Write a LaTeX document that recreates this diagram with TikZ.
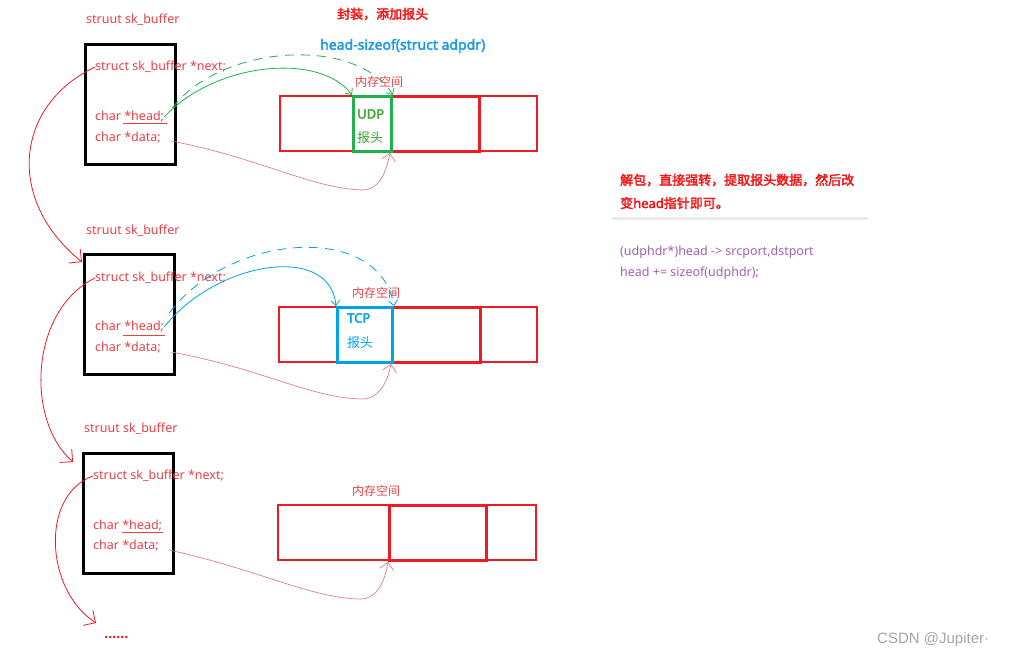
\documentclass[tikz,border=0pt]{standalone}
\usepackage{fontspec}
\setmainfont{Noto Sans}[AutoFakeBold=2.5]
\newfontfamily\cjk{Noto Sans CJK SC}[AutoFakeBold=2.5]
\newfontfamily\wmfont{Liberation Sans}
\usetikzlibrary{arrows.meta,calc}
\definecolor{txtred}{RGB}{232,64,72}
\definecolor{pred}{RGB}{237,28,36}
\definecolor{pgreen}{RGB}{34,177,76}
\definecolor{tgreen}{RGB}{60,165,50}
\definecolor{pblue}{RGB}{0,162,232}
\definecolor{hblue}{RGB}{25,155,225}
\definecolor{ppurple}{RGB}{165,95,175}
\definecolor{ppink}{RGB}{225,125,140}
\definecolor{tred}{RGB}{245,20,20}
\begin{document}
\begin{tikzpicture}[x=1pt,y=-1pt,
  lbl/.style={anchor=west,inner sep=0pt,text=txtred,font=\fontsize{12.5}{14}\selectfont},
  cjklbl/.style={anchor=west,inner sep=0pt,text=txtred,font=\fontsize{12}{14}\selectfont\cjk},
  sbox/.style={draw=black,line width=3pt,anchor=north west,minimum width=90pt,minimum height=120pt,inner sep=0pt},
  mem/.style={draw=pred,line width=2pt,anchor=north west,minimum height=55pt,inner sep=0pt},
  memthick/.style={draw=pred,line width=3pt,anchor=north west,minimum height=55pt,inner sep=0pt},
  hdr/.style={line width=3pt,anchor=north west,minimum height=55pt,inner sep=0pt},
  hdrtxt/.style={anchor=west,inner sep=0pt,font=\fontsize{13}{14}\selectfont\bfseries},
  hdrcjk/.style={anchor=west,inner sep=0pt,font=\fontsize{13}{14}\selectfont\cjk},
  ptr/.style={line width=0.8pt,-{Straight Barb[length=5pt,width=9pt]}},
  ptrdash/.style={ptr,dash pattern=on 9pt off 7pt},
  dataarrow/.style={draw=ppink,line width=0.7pt,-{Straight Barb[length=7pt,width=14pt]}},
  nextarrow/.style={draw=pred,line width=0.8pt,-{Straight Barb[length=9pt,width=18pt]}},
  uline/.style={draw=txtred,line width=0.7pt},
]
\useasboundingbox (0,0) rectangle (1017,660);
\fill[white] (0,0) rectangle (1017,660);

% ---------- row 1 ----------
\node[sbox] (b1) at (84,43) {};
\node[lbl] (t1) at (86,20) {struut sk\_buffer};
\node[lbl] (n1) at (95,67) {struct sk\_buffer *next;};
\node[lbl] (h1) at (95,117) {char *head;};
\node[lbl] (d1) at (95,138) {char *data;};
\draw[uline] (123,123) -- (167,123);

\node[mem,minimum width=257pt] (m1) at (279,95) {};
\node[memthick,minimum width=88pt] (r1) at (390,95) {};
\node[hdr,draw=pgreen,minimum width=38pt] (g1) at (352,95) {};
\node[cjklbl] (k1) at (355,82) {内存空间};
\node[hdrtxt,text=tgreen] (u1) at (357,114) {UDP};
\node[hdrcjk,text=tgreen] (u1b) at (357,138) {报头};

\node[anchor=west,inner sep=0pt,text=tred,font=\fontsize{13}{14}\selectfont\cjk\bfseries] (title) at (337,14) {封装，添加报头};
\node[anchor=west,inner sep=0pt,text=hblue,font=\fontsize{14}{15}\selectfont\bfseries] (hs) at (320,46) {head-sizeof(struct adpdr)};

\coordinate (hd1) at ($(h1.east)+(8,-9)$);
\draw[ptr,pgreen] (h1.east) .. controls (215,62) and (320,52) .. (g1.north west);
\draw[ptrdash,pgreen] (hd1) .. controls (220,45) and (355,35) .. (g1.north east);
\draw[dataarrow] ($(d1.east)+(10,3)$) .. controls (260,158) and (310,188) .. (362,190) .. controls (380,190) and (386,172) .. (r1.south west);

% ---------- row 2 ----------
\node[sbox] (b2) at (83,253) {};
\node[lbl] (t2) at (86,231) {struut sk\_buffer};
\node[lbl] (n2) at (95,278) {struct sk\_buffer *next;};
\node[lbl] (h2) at (95,327) {char *head;};
\node[lbl] (d2) at (95,348) {char *data;};
\draw[uline] (123,335) -- (165,335);

\node[mem,minimum width=258pt] (m2) at (278,306) {};
\node[memthick,minimum width=88pt] (r2) at (391,306) {};
\node[hdr,draw=pblue,minimum width=55pt] (g2) at (336,306) {};
\node[cjklbl] (k2) at (352,293) {内存空间};
\node[hdrtxt,text=pblue] (u2) at (347,318) {TCP};
\node[hdrcjk,text=pblue] (u2b) at (347,343) {报头};

\coordinate (hd2) at ($(h2.east)+(5,-14)$);
\draw[ptr,pblue] (h2.east) .. controls (215,262) and (330,242) .. (g2.north west);
\draw[ptrdash,pblue] (hd2) .. controls (230,232) and (380,222) .. (g2.north east);
\draw[dataarrow] ($(d2.east)+(10,4)$) .. controls (260,368) and (310,398) .. (362,399) .. controls (380,399) and (388,380) .. (r2.south west);

% ---------- row 3 ----------
\node[sbox] (b3) at (82,452) {};
\node[lbl] (t3) at (84,429) {struut sk\_buffer};
\node[lbl] (n3) at (93,476) {struct sk\_buffer *next;};
\node[lbl] (h3) at (93,526) {char *head;};
\node[lbl] (d3) at (93,546) {char *data;};
\draw[uline] (122,532) -- (163,532);

\node[mem,minimum width=258pt] (m3) at (277,504) {};
\node[memthick,minimum width=97pt] (r3) at (388,504) {};
\node[cjklbl] (k3) at (352,491) {内存空间};

\draw[dataarrow] ($(d3.east)+(10,4)$) .. controls (260,570) and (310,598) .. (360,599) .. controls (378,599) and (385,580) .. (r3.south west);

% ---------- next pointers ----------
\coordinate (e3) at (96,623);
\draw[nextarrow] (n1.west) .. controls (15,105) and (5,200) .. ($(b2.north west)+(-1,9)$);
\draw[nextarrow] (n2.west) .. controls (30,310) and (25,420) .. ($(b3.north west)+(-9,10)$);
\draw[nextarrow] (n3.west) .. controls (40,495) and (45,590) .. (e3);
\node[anchor=west,inner sep=0pt,text=pred,font=\fontsize{15}{16}\selectfont\bfseries] (dots) at (104,637) {......};

% ---------- right notes ----------
\node[anchor=west,inner sep=0pt,text=tred,font=\fontsize{13}{14}\selectfont\cjk\bfseries] (r1a) at (620,180) {解包，直接强转，提取报头数据，然后改};
\node[anchor=west,inner sep=0pt,text=tred,font=\fontsize{13}{14}\selectfont\bfseries] (r1b) at (620,203) {{\cjk\bfseries 变}head{\cjk\bfseries 指针即可。}};
\draw[black!8,line width=3pt] (612,219) -- (868,219);
\node[anchor=west,inner sep=0pt,text=ppurple,font=\fontsize{12.5}{14}\selectfont] (c1) at (620,252) {(udphdr*)head -> srcport,dstport};
\node[anchor=west,inner sep=0pt,text=ppurple,font=\fontsize{12.5}{14}\selectfont] (c2) at (620,273) {head += sizeof(udphdr);};

\node[anchor=west,inner sep=0pt,text=black!35,font=\fontsize{15}{16}\selectfont\wmfont] (wm) at (877,640) {CSDN @Jupiter·};
\end{tikzpicture}
\end{document}
